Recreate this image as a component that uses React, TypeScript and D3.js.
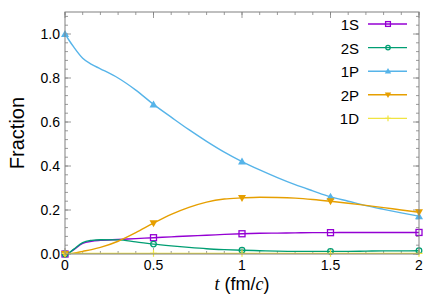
import React from "react";
import * as d3 from "d3";

const times = [0, 0.02, 0.05, 0.1, 0.15, 0.2, 0.3, 0.4, 0.5, 0.6, 0.7, 0.8, 0.9, 1.0, 1.1, 1.2, 1.3, 1.4, 1.5, 1.6, 1.7, 1.8, 1.9, 2.0];
const s1 = [0, 0.004, 0.02, 0.048, 0.058, 0.062, 0.066, 0.07, 0.074, 0.078, 0.082, 0.085, 0.089, 0.092, 0.094, 0.095, 0.096, 0.097, 0.097, 0.098, 0.098, 0.098, 0.098, 0.098];
const s2 = [0, 0.004, 0.022, 0.052, 0.062, 0.065, 0.064, 0.055, 0.045, 0.037, 0.03, 0.024, 0.02, 0.017, 0.015, 0.013, 0.012, 0.012, 0.012, 0.012, 0.013, 0.014, 0.014, 0.015];
const p1 = [1.0, 0.975, 0.94, 0.89, 0.862, 0.842, 0.80, 0.745, 0.68, 0.622, 0.565, 0.512, 0.463, 0.42, 0.382, 0.347, 0.315, 0.287, 0.26, 0.24, 0.22, 0.203, 0.187, 0.172];
const p2 = [0, 0.001, 0.004, 0.012, 0.02, 0.03, 0.058, 0.097, 0.14, 0.18, 0.212, 0.236, 0.25, 0.255, 0.258, 0.257, 0.254, 0.248, 0.24, 0.231, 0.221, 0.211, 0.2, 0.19];
const d1 = times.map(() => 0.003);

const markerTimes = [0, 0.5, 1, 1.5, 2];
const xTicks = [0, 0.5, 1, 1.5, 2];
const xTickLabels = ["0", "0.5", "1", "1.5", "2"];
const yTicks = [0, 0.2, 0.4, 0.6, 0.8, 1.0];

const series = [
  { name: "1S", values: s1, color: "#9400d3", marker: "square" },
  { name: "2S", values: s2, color: "#009e73", marker: "circle" },
  { name: "1P", values: p1, color: "#56b4e9", marker: "up" },
  { name: "2P", values: p2, color: "#e69f00", marker: "down" },
  { name: "1D", values: d1, color: "#f0e442", marker: "plus" },
];

const W = 436, H = 299;
const m = { left: 65, right: 17, top: 12, bottom: 45 };

const Marker = ({ type, x, y, color, k = 1 }: { type: string; x: number; y: number; color: string; k?: number }) => {
  if (type === "square")
    return <rect x={x - 3 * k} y={y - 3 * k} width={6 * k} height={6 * k} fill="none" stroke={color} strokeWidth={1.3} />;
  if (type === "circle")
    return <circle cx={x} cy={y} r={2.8 * k} fill="none" stroke={color} strokeWidth={1.3} />;
  if (type === "up")
    return <path d={`M${x},${y - 4 * k}L${x + 4 * k},${y + 3 * k}L${x - 4 * k},${y + 3 * k}Z`} fill={color} />;
  if (type === "down")
    return <path d={`M${x},${y + 4 * k}L${x + 4 * k},${y - 3 * k}L${x - 4 * k},${y - 3 * k}Z`} fill={color} />;
  return <path d={`M${x - 3.5 * k},${y}H${x + 3.5 * k}M${x},${y - 3.5 * k}V${y + 3.5 * k}`} stroke={color} strokeWidth={1.2} />;
};

const App = () => {
  const x = d3.scaleLinear().domain([0, 2]).range([m.left, W - m.right]);
  const y = d3.scaleLinear().domain([0, 1.1]).range([H - m.bottom, m.top]);
  const line = d3
    .line<number>()
    .x((_, i) => x(times[i]))
    .y((d) => y(d))
    .curve(d3.curveMonotoneX);

  const xMinor = d3.range(0, 2.0001, 0.1);
  const yMinor = d3.range(0, 1.1001, 0.04);
  const frame = "#808080";
  const x0 = x.range()[0], x1 = x.range()[1];
  const y0 = y.range()[0], y1 = y.range()[1];

  return (
    <svg width={W} height={H} style={{ position: "absolute", left: 0, top: 0 }} fontFamily="Liberation Sans, Arial, sans-serif">
      <defs>
        <clipPath id="plot">
          <rect x={x0} y={y1} width={x1 - x0} height={y0 - y1} />
        </clipPath>
      </defs>
      {xMinor.map((t, i) => (
        <g key={"xm" + i} stroke={frame} strokeWidth={0.8}>
          <line x1={x(t)} x2={x(t)} y1={y0} y2={y0 - 3} />
          <line x1={x(t)} x2={x(t)} y1={y1} y2={y1 + 3} />
        </g>
      ))}
      {xTicks.map((t, i) => (
        <g key={"xt" + i} stroke={frame} strokeWidth={0.8}>
          <line x1={x(t)} x2={x(t)} y1={y0} y2={y0 - 6} />
          <line x1={x(t)} x2={x(t)} y1={y1} y2={y1 + 6} />
        </g>
      ))}
      {yMinor.map((t, i) => (
        <g key={"ym" + i} stroke={frame} strokeWidth={0.8}>
          <line x1={x0} x2={x0 + 3} y1={y(t)} y2={y(t)} />
          <line x1={x1} x2={x1 - 3} y1={y(t)} y2={y(t)} />
        </g>
      ))}
      {yTicks.map((t, i) => (
        <g key={"yt" + i} stroke={frame} strokeWidth={0.8}>
          <line x1={x0} x2={x0 + 6} y1={y(t)} y2={y(t)} />
          <line x1={x1} x2={x1 - 6} y1={y(t)} y2={y(t)} />
        </g>
      ))}
      <g clipPath="url(#plot)">
        {series.map((s) => (
          <path key={s.name} d={line(s.values) || ""} fill="none" stroke={s.color} strokeWidth={1.4} />
        ))}
      </g>
      {series.map((s) =>
        markerTimes.map((t) => {
          const i = times.indexOf(t);
          return <Marker key={s.name + t} type={s.marker} x={x(t)} y={y(s.values[i])} color={s.color} />;
        })
      )}
      <rect x={x0} y={y1} width={x1 - x0} height={y0 - y1} fill="none" stroke={frame} strokeWidth={1} />
      {xTicks.map((t, i) => (
        <text key={"xl" + i} x={x(t)} y={y0 + 16} textAnchor="middle" fontSize={14}>
          {xTickLabels[i]}
        </text>
      ))}
      {yTicks.map((t, i) => (
        <text key={"yl" + i} x={x0 - 5} y={y(t) + 5} textAnchor="end" fontSize={14}>
          {t.toFixed(1)}
        </text>
      ))}
      <text transform={`translate(24,${(y0 + y1) / 2}) rotate(-90)`} textAnchor="middle" fontSize={20}>
        Fraction
      </text>
      <text x={(x0 + x1) / 2} y={290} textAnchor="middle" fontSize={18}>
        <tspan fontFamily="Liberation Serif, serif" fontStyle="italic">t</tspan> (fm/
        <tspan fontFamily="Liberation Serif, serif" fontStyle="italic">c</tspan>)
      </text>
      {series.map((s, i) => {
        const ly = 24 + i * 23.6;
        return (
          <g key={"lg" + s.name}>
            <text x={359} y={ly + 6} textAnchor="end" fontSize={15}>
              {s.name}
            </text>
            <line x1={368} x2={407} y1={ly} y2={ly} stroke={s.color} strokeWidth={1.4} />
            <Marker type={s.marker} x={388} y={ly} color={s.color} k={0.8} />
          </g>
        );
      })}
    </svg>
  );
};

export default App;
